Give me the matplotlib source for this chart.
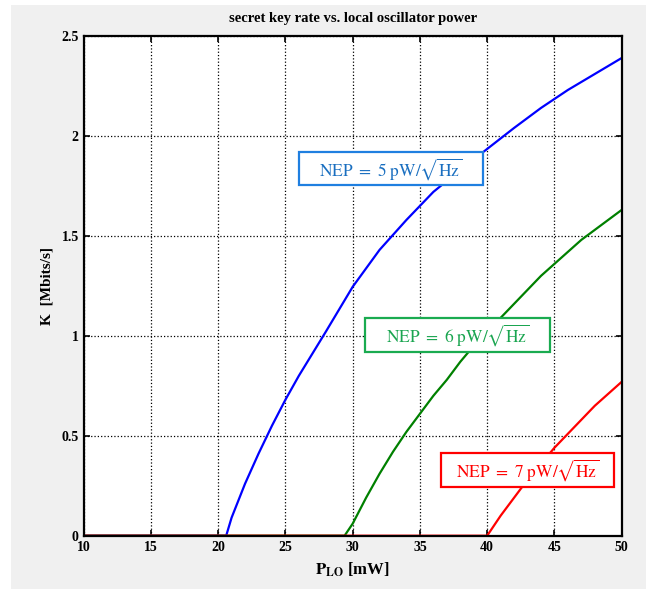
import matplotlib
matplotlib.use("Agg")
import matplotlib.pyplot as plt
from matplotlib.patches import Rectangle

p_blue = [10, 20.6, 21, 22, 23, 24, 25, 26, 27, 28, 30, 32, 34, 36, 38, 40, 42, 44, 46, 48, 50]
k_blue = [0, 0, 0.09, 0.26, 0.41, 0.55, 0.68, 0.80, 0.91, 1.02, 1.245, 1.43, 1.58, 1.72, 1.83, 1.935, 2.04, 2.14, 2.23, 2.31, 2.39]

p_green = [10, 29.4, 30, 31, 32, 33, 34, 35, 36, 37, 38, 39, 40, 41, 42, 43, 44, 45, 46, 47, 48, 49, 50]
k_green = [0, 0, 0.06, 0.19, 0.31, 0.42, 0.52, 0.61, 0.70, 0.78, 0.87, 0.95, 1.02, 1.09, 1.16, 1.23, 1.30, 1.36, 1.42, 1.48, 1.53, 1.58, 1.63]

p_red = [10, 40, 41, 42, 43, 44, 45, 46, 47, 48, 49, 50]
k_red = [0, 0, 0.10, 0.19, 0.28, 0.36, 0.44, 0.51, 0.58, 0.65, 0.71, 0.77]

labels = [r'$\mathrm{NEP\ =\ 5\ pW/\sqrt{Hz}}$',
          r'$\mathrm{NEP\ =\ 6\ pW/\sqrt{Hz}}$',
          r'$\mathrm{NEP\ =\ 7\ pW/\sqrt{Hz}}$']
# label boxes: (x0, x1, y0, y1) in data units
label_boxes = [(26.0, 39.7, 1.753, 1.918), (30.9, 44.7, 0.919, 1.089), (36.6, 49.4, 0.244, 0.414)]
label_colors = ['#1f7fe0', '#1aab50', '#ff0000']
text_colors = ['#1a6fc0', '#1aa550', '#ff0000']

xticks = [10, 15, 20, 25, 30, 35, 40, 45, 50]
yticks = [0, 0.5, 1, 1.5, 2, 2.5]

plt.rcParams['font.family'] = 'Liberation Serif'
plt.rcParams['mathtext.fontset'] = 'stix'

fig = plt.figure(figsize=(6.46, 5.89), dpi=100, facecolor='white')
fig.patches.append(Rectangle((11/646, 0), 1, 1 - 5/589, transform=fig.transFigure,
                             facecolor='#f0f0f0', edgecolor='none', zorder=-10))
ax = fig.add_axes([83.6/646, 1 - 535.7/589, (621.7 - 83.6)/646, (535.7 - 36)/589])
ax.set_facecolor('white')

ax.plot(p_blue, k_blue, color='#0000ff', lw=1.6)
ax.plot(p_green, k_green, color='#008000', lw=1.6)
ax.plot(p_red, k_red, color='#ff0000', lw=1.6)

for lab, (x0, x1, y0, y1), ec, tc in zip(labels, label_boxes, label_colors, text_colors):
    ax.add_patch(Rectangle((x0, y0), x1 - x0, y1 - y0, facecolor='white',
                           edgecolor=ec, lw=1.6, zorder=4))
    ax.text((x0 + x1) / 2, (y0 + y1) / 2, lab, color=tc, fontsize=12.5,
            ha='center', va='center', zorder=5)

ax.set_xlim(10, 50)
ax.set_ylim(0, 2.5)
ax.set_xticks(xticks)
ax.set_yticks(yticks)
ax.set_xticklabels([str(t) for t in xticks])
ax.set_yticklabels(['0', '0.5', '1', '1.5', '2', '2.5'])
ax.grid(True, color='black', linestyle=':', linewidth=0.9)
ax.tick_params(direction='in', top=True, right=True, length=4, width=1.2, labelsize=10)
for lbl in ax.get_xticklabels() + ax.get_yticklabels():
    lbl.set_fontweight('bold')
for s in ax.spines.values():
    s.set_linewidth(1.6)

ax.set_title('secret key rate vs. local oscillator power', fontsize=10.5, fontweight='bold', pad=10)
ax.set_xlabel(r'$\mathbf{P_{LO}}$ [mW]', fontsize=12, fontweight='bold', labelpad=5)
ax.set_ylabel('K  [Mbits/s]', fontsize=11, fontweight='bold', labelpad=6)

fig.savefig('out.png', dpi=100, facecolor=fig.get_facecolor())
